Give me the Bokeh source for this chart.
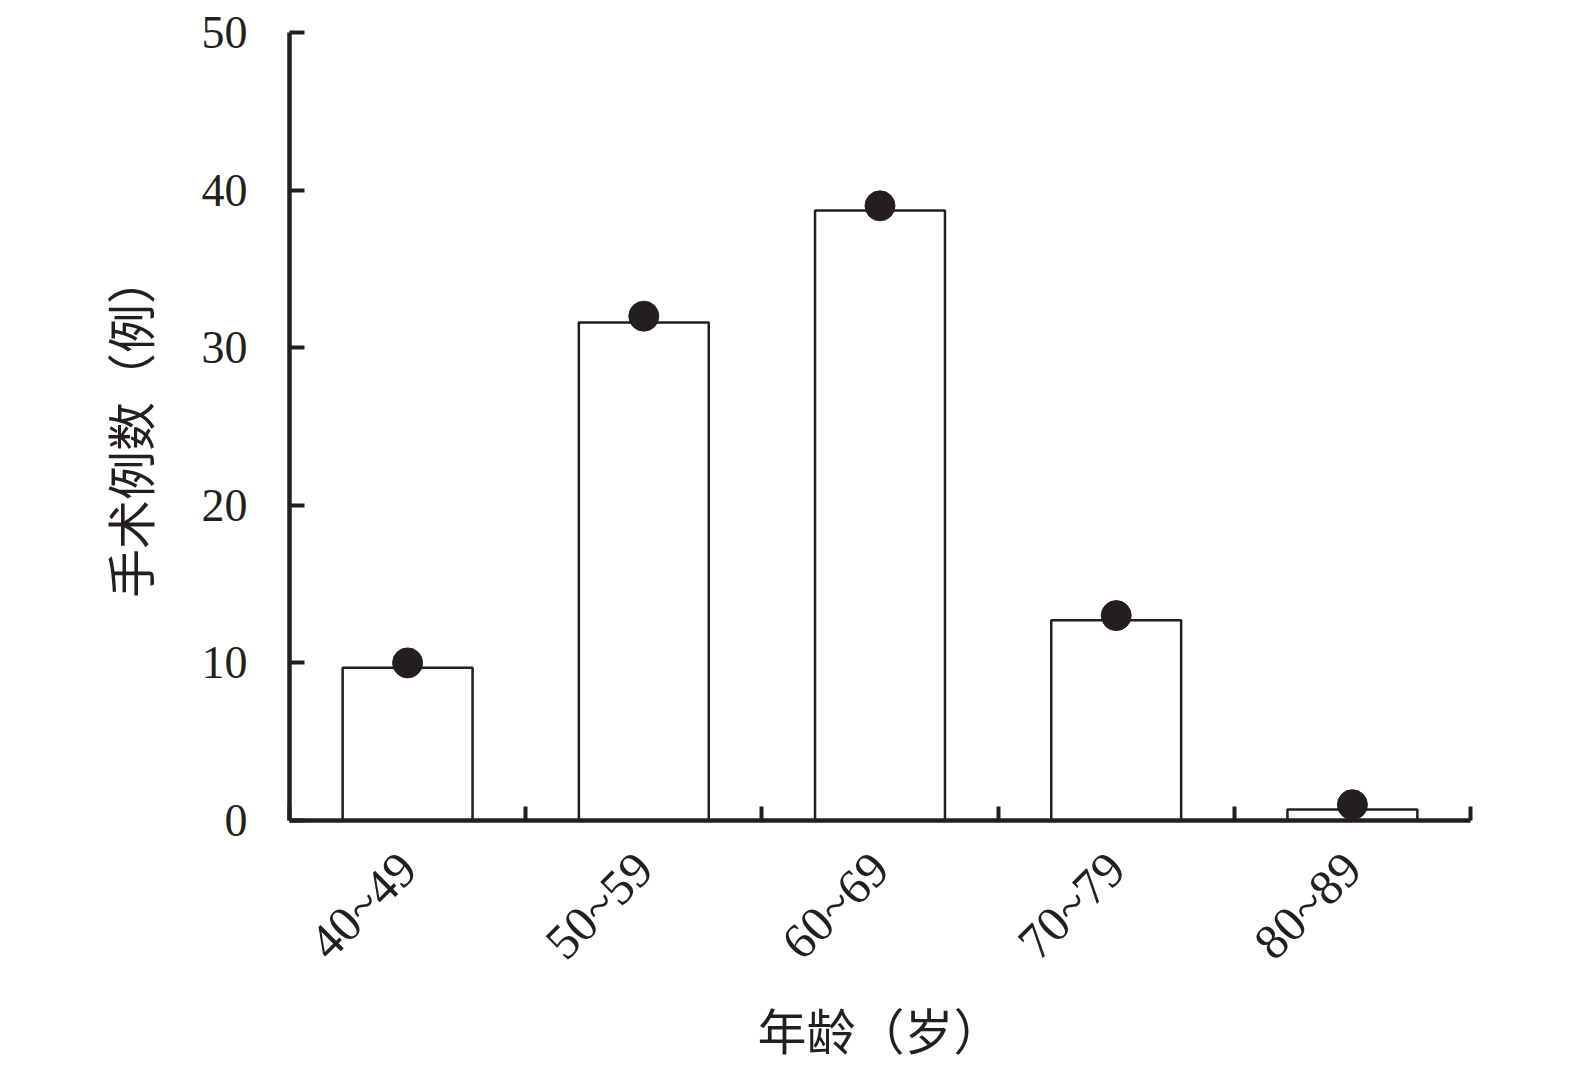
from bokeh.plotting import figure
from bokeh.models import Range1d, FixedTicker, ColumnDataSource
from bokeh.embed import file_html
from bokeh.resources import INLINE
import math

categories = ["40~49", "50~59", "60~69", "70~79", "80~89"]
bar_values = [9.7, 31.6, 38.7, 12.7, 0.7]
dot_values = [10, 32, 39, 13, 1]
y_ticks = [0, 10, 20, 30, 40, 50]

n = len(categories)
centers = [i + 0.5 for i in range(n)]
bounds = [i for i in range(n + 1)]

src = ColumnDataSource(dict(x=centers, bar=bar_values, dot=dot_values, cat=categories))

INK = "#231f20"

p = figure(width=1560, height=1066, output_backend="svg", toolbar_location=None,
           x_range=Range1d(0, n), y_range=Range1d(0, 50),
           min_border_left=289, min_border_right=90, min_border_top=32, min_border_bottom=240)
p.outline_line_color = None
p.xgrid.visible = False
p.ygrid.visible = False
p.background_fill_color = "white"
p.border_fill_color = "white"

p.vbar(x="x", top="bar", bottom=0, width=0.55, source=src,
       fill_color="white", line_color=INK, line_width=2.5)
p.scatter(x="x", y="dot", source=src, size=30, fill_color=INK, line_color=INK)

# x axis
xa = p.xaxis[0]
xa.ticker = FixedTicker(ticks=centers, minor_ticks=bounds)
xa.major_label_overrides = {c: lab for c, lab in zip(centers, categories)}
xa.major_label_orientation = math.pi / 4
xa.major_tick_in = 0
xa.major_tick_out = 0
xa.minor_tick_in = 14
xa.minor_tick_out = 0
xa.minor_tick_line_width = 4
xa.minor_tick_line_color = INK
xa.axis_line_width = 4.5
xa.axis_line_color = INK
xa.major_label_text_font = "Liberation Serif"
xa.major_label_text_font_size = "50px"
xa.major_label_text_color = INK
xa.major_label_standoff = 40
xa.axis_label = "年龄（岁）"
xa.axis_label_text_font = "Noto Sans CJK SC"
xa.axis_label_text_font_size = "49px"
xa.axis_label_text_font_style = "normal"
xa.axis_label_text_color = INK
xa.axis_label_standoff = 0

# y axis
ya = p.yaxis[0]
ya.ticker = FixedTicker(ticks=y_ticks)
ya.major_tick_in = 15
ya.major_tick_out = 0
ya.minor_tick_in = 0
ya.minor_tick_out = 0
ya.major_tick_line_width = 4
ya.major_tick_line_color = INK
ya.axis_line_width = 4.5
ya.axis_line_color = INK
ya.major_label_text_font = "Liberation Serif"
ya.major_label_text_font_size = "46px"
ya.major_label_text_color = INK
ya.major_label_standoff = 42
ya.axis_label = "手术例数（例）"
ya.axis_label_text_font = "Noto Sans CJK SC"
ya.axis_label_text_font_size = "49px"
ya.axis_label_text_font_style = "normal"
ya.axis_label_text_color = INK
ya.axis_label_standoff = 35

open("out.html", "w").write(file_html(p, INLINE))
